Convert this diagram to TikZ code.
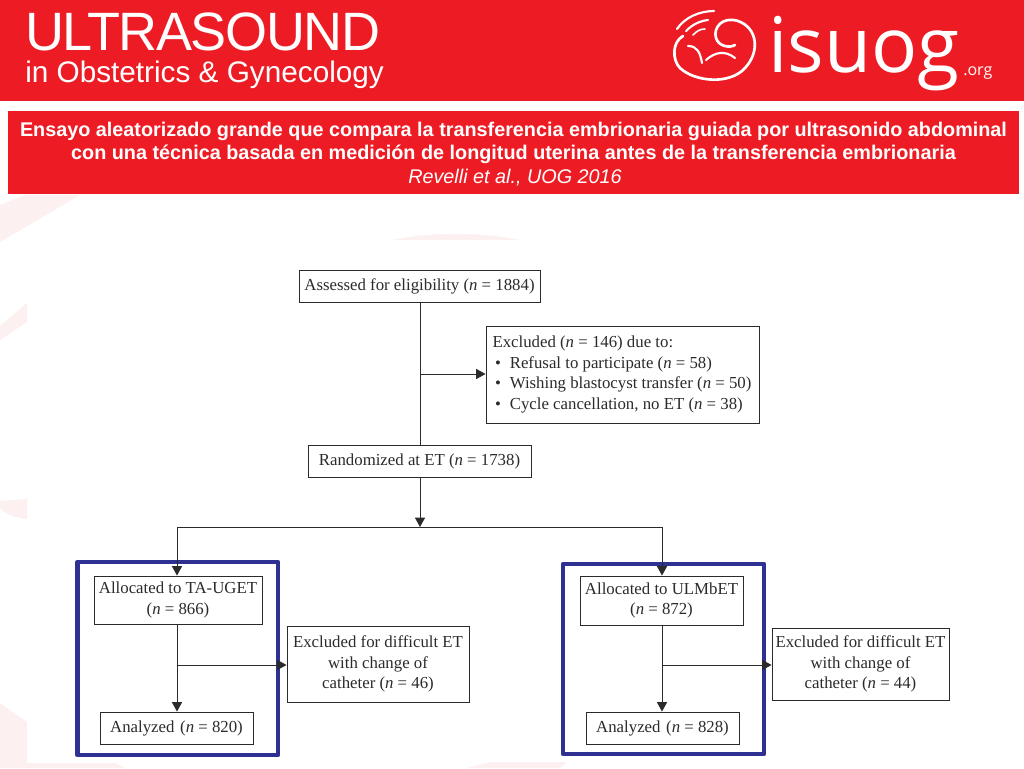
\documentclass[tikz,border=0pt]{standalone}
\usepackage{fontspec}
\usetikzlibrary{arrows.meta,calc}
\setmainfont{Liberation Serif}
\newfontfamily\hdsans[LetterSpace=-2.7]{Liberation Sans}
\newfontfamily\ttlsans{Liberation Sans}
\newfontfamily\logosans{Open Sans}
\definecolor{isred}{HTML}{ED1C24}
\definecolor{ispink}{HTML}{FDF0F0}
\definecolor{isblue}{HTML}{2E3192}
\definecolor{inkk}{HTML}{2B2B2B}
\newcommand{\nn}{\textit{n}}
\newcommand{\bul}{\makebox[13pt][l]{\hspace{2pt}•}}
\tikzset{
  x=0.75pt,y=-0.75pt,
  flowbox/.style={draw=inkk,line width=0.7pt,fill=white,text=inkk,inner sep=0pt,align=center,
    font=\fontsize{12.6}{15.5}\selectfont},
  conn/.style={draw=inkk,line width=0.7pt},
  arrowconn/.style={conn,-{Triangle[length=7pt,width=7.5pt]}},
  frame/.style={draw=isblue,line width=3.2pt,line join=round},
  pinkshape/.style={fill=ispink,draw=none},
  logoline/.style={draw=white,line cap=round,line width=1.6pt},
  whitetext/.style={text=white,inner sep=0pt}
}
\begin{document}
\begin{tikzpicture}
\useasboundingbox (0,0) rectangle (1024,768);
\fill[white] (0,0) rectangle (1024,768);
% faint background
\fill[pinkshape] (25,195) -- (80,195) -- (0,242) -- (0,205) -- cycle;
\fill[pinkshape] (27,303) -- (27,322) -- (0,340) -- (0,326) -- cycle;
\fill[pinkshape] (0,501) -- (27,499) -- (27,519) .. controls (15,518) and (6,514) .. (0,508) -- cycle;
\fill[pinkshape] (393,240) .. controls (420,233) and (480,231) .. (520,240) -- cycle;
\fill[pinkshape] (0,703) -- (27,722) -- (27,763) -- (115,763) -- (125,768) -- (0,768) -- cycle;
\fill[pinkshape] (467,768) -- (490,762) -- (567,762) -- (560,768) -- cycle;
% header
\fill[isred] (0,0) rectangle (1024,101);
\node[whitetext,anchor=base west,font=\hdsans\fontsize{40.5}{41}\selectfont] (ult) at (25,50) {ULTRASOUND};
\node[whitetext,anchor=base west,font=\ttlsans\fontsize{22.3}{22.3}\selectfont] (obs) at (25,82) {in Obstetrics \& Gynecology};
% logo
\draw[logoline,line width=2pt] (683,36) .. controls (672,42) and (672,60) .. (680,68)
  .. controls (695,82) and (730,85) .. (745,68)
  .. controls (760,52) and (758,28) .. (738,21)
  .. controls (722,16) and (713,28) .. (716,38)
  .. controls (719,47) and (730,48) .. (735,45);
\draw[logoline] (677,29) .. controls (685,17) and (700,11) .. (714,11);
\draw[logoline] (686,31) .. controls (693,24) and (700,21) .. (708,20);
\draw[logoline,line width=1.2pt] (693,35) .. controls (697,31) and (700,29) .. (705,29);
\draw[logoline] (688,46) .. controls (697,46) and (700,52) .. (702,63);
\draw[logoline] (706,60) .. controls (715,52) and (725,50) .. (735,58);
\node[whitetext,anchor=base west,font=\logosans\fontsize{57.5}{57.5}\selectfont] (iso) at (768,72) {isuog};
\node[whitetext,anchor=base west,font=\logosans\fontsize{12}{12}\selectfont] (org) at (963,75) {.org};
% title
\fill[isred] (8,111) rectangle (1019,194);
\node[whitetext,anchor=base,align=center,font=\ttlsans\bfseries\fontsize{14.85}{17}\selectfont] (t1) at (513.5,136)
  {Ensayo aleatorizado grande que compara la transferencia embrionaria guiada por ultrasonido abdominal};
\node[whitetext,anchor=base,font=\ttlsans\bfseries\fontsize{14.85}{17}\selectfont] (t2) at (513.5,159)
  {con una técnica basada en medición de longitud uterina antes de la transferencia embrionaria};
\node[whitetext,anchor=base,font=\ttlsans\itshape\fontsize{14.85}{17}\selectfont] (t3) at (515,183)
  {Revelli et al., UOG 2016};
% blue frames
\draw[frame] (77.5,562) rectangle (278,755);
\draw[frame] (563,564) rectangle (764,754);
% boxes
\node[flowbox,minimum width=180.75pt,minimum height=24pt] (a) at (419.5,286)
  {Assessed for eligibility (\nn{} = 1884)};
\node[flowbox,minimum width=204.75pt,minimum height=72.75pt,align=flush left,text width=195pt] (ex) at (622.5,374.5)
  {Excluded (\nn{} = 146) due to:\\\bul Refusal to participate (\nn{} = 58)\\\bul Wishing blastocyst transfer (\nn{} = 50)\\\bul Cycle cancellation, no ET (\nn{} = 38)};
\node[flowbox,minimum width=167.25pt,minimum height=24pt] (r) at (419.5,461)
  {Randomized at ET (\nn{} = 1738)};
\node[flowbox,minimum width=126pt,minimum height=36pt] (ta) at (178,600)
  {Allocated to TA-UGET\\(\nn{} = 866)};
\node[flowbox,minimum width=114.75pt,minimum height=24pt] (ana) at (176.5,728)
  {Analyzed\,\,(\nn{} = 820)};
\node[flowbox,minimum width=136.5pt,minimum height=57pt] (ext) at (378,664)
  {Excluded for difficult ET\\with change of\\catheter (\nn{} = 46)};
\node[flowbox,minimum width=122.25pt,minimum height=36.75pt] (ul) at (661.5,600.5)
  {Allocated to ULMbET\\(\nn{} = 872)};
\node[flowbox,minimum width=114.75pt,minimum height=24pt] (anb) at (662.5,728)
  {Analyzed\,\,(\nn{} = 828)};
\node[flowbox,minimum width=132.75pt,minimum height=54pt] (exu) at (860.5,664)
  {Excluded for difficult ET\\with change of\\catheter (\nn{} = 44)};
% junctions
\coordinate (b1) at (420,374);
\coordinate (j) at (420,527);
\coordinate (jl) at (177,527);
\coordinate (jr) at (662,527);
\coordinate (bl) at (177,665);
\coordinate (br) at (662,665);
% connectors
\draw[conn] (a.south -| b1) -- (r.north -| b1);
\draw[arrowconn] (b1) -- (ex.west |- b1);
\draw[arrowconn] (r.south -| j) -- (j);
\draw[conn] (jl) -- (jr);
\draw[arrowconn] (jl) -- (jl |- ta.north);
\draw[arrowconn] (jr) -- (jr |- ul.north);
\draw[arrowconn] (bl |- ta.south) -- (bl |- ana.north);
\draw[arrowconn] (bl) -- (ext.west |- bl);
\draw[arrowconn] (br |- ul.south) -- (br |- anb.north);
\draw[arrowconn] (br) -- (exu.west |- br);
\end{tikzpicture}
\end{document}
